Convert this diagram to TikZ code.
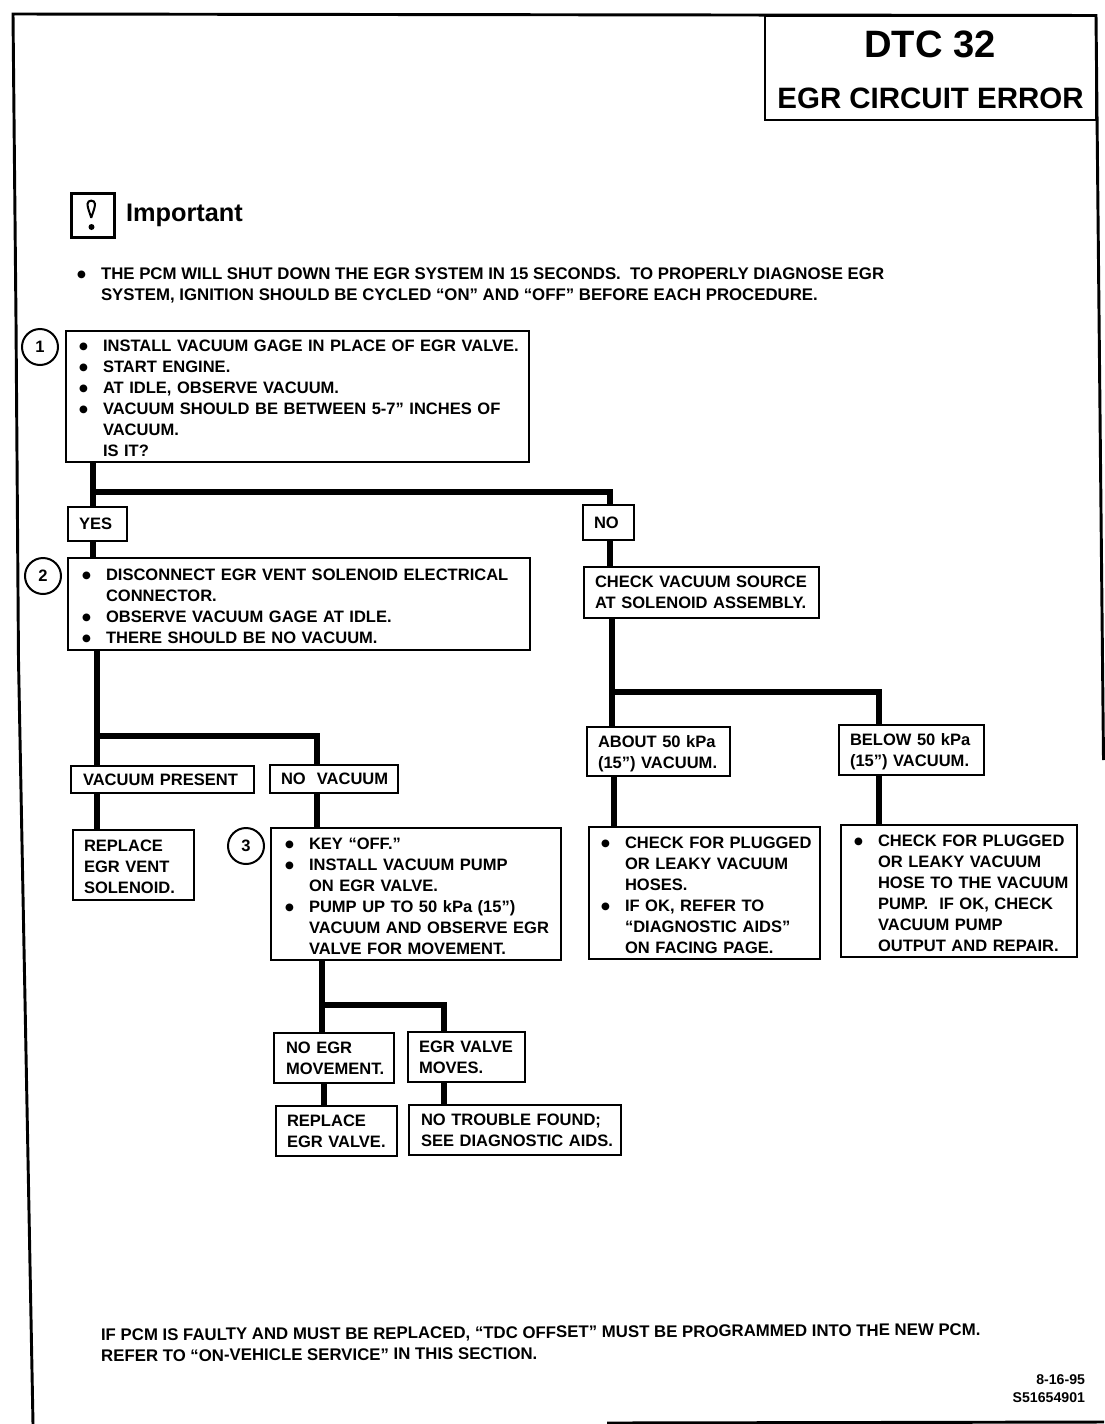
\documentclass[tikz,border=0pt]{standalone}
\usepackage{fontspec}
\setmainfont{Liberation Sans}
\newfontfamily\bulfont{DejaVu Sans}
\newcommand{\boxfont}{\fontsize{12.4}{15.75}\selectfont\bfseries}
\newcommand{\notefont}{\fontsize{12.6}{15.75}\selectfont\bfseries}
\newcommand{\bul}{\makebox[18pt][l]{\raisebox{1.4pt}{\bulfont\fontsize{7.6}{12}\selectfont ●}}}
\newcommand{\hang}{\hspace*{18pt}}
\tikzset{every picture/.style={line width=1.5pt},
  textbox/.style n args={3}{draw,anchor=north west,align=left,font=\boxfont,inner sep=0pt,
    execute at begin node={\leftskip=0.75\dimexpr #3pt\relax},
    minimum width=(#1-1)*0.75pt,minimum height=(#2-1)*0.75pt,text width=(#1-1)*0.75pt},
  lowtext/.style={execute at end node={\par\vspace*{-3pt}}},
  stepmark/.style={draw,circle,minimum size=36*0.75pt,inner sep=0pt,font=\boxfont},
  link/.style={line width=4.2pt},
  plaintext/.style={anchor=north west,inner sep=0pt,align=left,font=\notefont}}

\begin{document}
\begin{tikzpicture}[x=0.75pt,y=0.75pt,yscale=-1,xscale=1]
        \useasboundingbox (0,0) rectangle (1104,1424);

        %Page frame
        \draw [line width=2.2pt] (33,1424) -- (25,1000) -- (18.5,660) -- (16,320) -- (13,14) -- (1096,15.5) -- (1103.5,760);
        \draw [line width=2.2pt] (607,1423) -- (1104,1422);

        %Title block
        \node (titlebox) [draw,anchor=north west,minimum width=331*0.75pt,minimum height=104*0.75pt] at (764,15) {};
        \node (titletop) [font=\fontsize{28.6}{30}\selectfont\bfseries] at (930,44) {DTC 32};
        \node (titlebot) [font=\fontsize{22.1}{26}\selectfont\bfseries] at (930.5,98) {EGR CIRCUIT ERROR};

        %Important sign
        \node (alertbox) [draw,line width=2.4pt,anchor=north west,minimum width=43*0.75pt,minimum height=44*0.75pt] at (70,192) {};
        \draw (91,217) .. controls (89,211) and (87.5,207) .. (87.5,204) .. controls (87.5,199.5) and (95,199.5) .. (95,204) .. controls (95,207) and (93.5,211) .. (91.5,217) -- cycle;
        \fill (91.5,227) circle (3);
        \node (alerttext) [anchor=west,inner sep=0pt,font=\fontsize{19}{22}\selectfont\bfseries] at (125,215) {Important};
        \node (alertnote) [plaintext] at (76,267) {\bul THE PCM WILL SHUT DOWN THE EGR SYSTEM IN 15 SECONDS.\ \ TO PROPERLY DIAGNOSE EGR\\\hang SYSTEM, IGNITION SHOULD BE CYCLED “ON” AND “OFF” BEFORE EACH PROCEDURE.};

        % Text Node
        \node (stepone) [textbox={464}{132}{13},lowtext] at (65,330) {\bul INSTALL VACUUM GAGE IN PLACE OF EGR VALVE.\\\bul START ENGINE.\\\bul AT IDLE, OBSERVE VACUUM.\\\bul VACUUM SHOULD BE BETWEEN 5-7” INCHES OF\\\hang VACUUM.\\\hang IS IT?};
        \node (markone) [stepmark] at (40,347) {1};
        \node (yesbox) [textbox={60}{35}{11}] at (67,506) {YES};
        \node (nobox) [textbox={52}{36}{11}] at (582,504) {NO};
        \node (steptwo) [textbox={463}{93}{14},lowtext] at (67,557) {\bul DISCONNECT EGR VENT SOLENOID ELECTRICAL\\\hang CONNECTOR.\\\bul OBSERVE VACUUM GAGE AT IDLE.\\\bul THERE SHOULD BE NO VACUUM.};
        \node (marktwo) [stepmark] at (43,576) {2};
        \node (checkbox) [textbox={236}{52}{11}] at (583,566) {CHECK VACUUM SOURCE\\AT SOLENOID ASSEMBLY.};
        \node (aboutbox) [textbox={144}{50}{11},lowtext] at (586,726) {ABOUT 50 kPa\\(15”) VACUUM.};
        \node (belowbox) [textbox={146}{51}{11},lowtext] at (838,724) {BELOW 50 kPa\\(15”) VACUUM.};
        \node (plugbox) [textbox={232}{133}{12},lowtext] at (588,826) {\bul CHECK FOR PLUGGED\\\hang OR LEAKY VACUUM\\\hang HOSES.\\\bul IF OK, REFER TO\\\hang “DIAGNOSTIC AIDS”\\\hang ON FACING PAGE.};
        \node (hosebox) [textbox={237}{133}{13},lowtext] at (840,824) {\bul CHECK FOR PLUGGED\\\hang OR LEAKY VACUUM\\\hang HOSE TO THE VACUUM\\\hang PUMP.\ \ IF OK, CHECK\\\hang VACUUM PUMP\\\hang OUTPUT AND REPAIR.};
        \node (presentbox) [textbox={184}{28}{12}] at (70,765) {VACUUM PRESENT};
        \node (novacbox) [textbox={129}{29}{11}] at (269,764) {NO\ \ VACUUM};
        \node (ventbox) [textbox={122}{71}{11},lowtext] at (72,829) {REPLACE\\EGR VENT\\SOLENOID.};
        \node (stepthree) [textbox={291}{133}{14},lowtext] at (270,827) {\bul KEY “OFF.”\\\bul INSTALL VACUUM PUMP\\\hang ON EGR VALVE.\\\bul PUMP UP TO 50 kPa (15”)\\\hang VACUUM AND OBSERVE EGR\\\hang VALVE FOR MOVEMENT.};
        \node (markthree) [stepmark] at (246,846) {3};
        \node (noegrbox) [textbox={121}{51}{12}] at (273,1032) {NO EGR\\MOVEMENT.};
        \node (movesbox) [textbox={118}{51}{11}] at (407,1031) {EGR VALVE\\MOVES.};
        \node (valvebox) [textbox={122}{51}{11}] at (275,1105) {REPLACE\\EGR VALVE.};
        \node (foundbox) [textbox={213}{51}{12}] at (408,1104) {NO TROUBLE FOUND;\\SEE DIAGNOSTIC AIDS.};

        %Straight Lines
        \coordinate (splitone) at (93,492);
        \coordinate (splitno) at (610,492);
        \coordinate (splittwo) at (97,736);
        \coordinate (splitvac) at (317,736);
        \coordinate (splitchk) at (612,692);
        \coordinate (splitlow) at (879,692);
        \coordinate (splitthree) at (322,1005);
        \coordinate (splitmove) at (444,1005);
        \draw [link] (stepone.south -| splitone) -- (yesbox.north -| splitone);
        \draw [link] (splitone) -- (splitno) -- (nobox.north -| splitno);
        \draw [link] (yesbox.south -| splitone) -- (steptwo.north -| splitone);
        \draw [link] (nobox.south -| splitno) -- (checkbox.north -| splitno);
        \draw [link] (checkbox.south -| splitchk) -- (aboutbox.north -| splitchk);
        \draw [link] (splitchk) -- (splitlow) -- (belowbox.north -| splitlow);
        \draw [link] ([xshift=1.5pt]aboutbox.south -| splitchk) -- ([xshift=1.5pt]plugbox.north -| splitchk);
        \draw [link] (belowbox.south -| splitlow) -- (hosebox.north -| splitlow);
        \draw [link] (steptwo.south -| splittwo) -- (presentbox.north -| splittwo);
        \draw [link] (splittwo) -- (splitvac) -- (novacbox.north -| splitvac);
        \draw [link] (presentbox.south -| splittwo) -- (ventbox.north -| splittwo);
        \draw [link] (novacbox.south -| splitvac) -- (stepthree.north -| splitvac);
        \draw [link] (stepthree.south -| splitthree) -- (noegrbox.north -| splitthree);
        \draw [link] (splitthree) -- (splitmove) -- (movesbox.north -| splitmove);
        \draw [link] ([xshift=1.5pt]noegrbox.south -| splitthree) -- ([xshift=1.5pt]valvebox.north -| splitthree);
        \draw [link] (movesbox.south -| splitmove) -- (foundbox.north -| splitmove);

        % Text Node
        \node (servicenote) [plaintext,rotate=0.35] at (100,1328) {IF PCM IS FAULTY AND MUST BE REPLACED, “TDC OFFSET” MUST BE PROGRAMMED INTO THE NEW PCM.\\REFER TO “ON-VEHICLE SERVICE” IN THIS SECTION.};
        \node (figcode) [anchor=north east,inner sep=0pt,align=right,font=\fontsize{10.6}{13.5}\selectfont\bfseries] at (1086,1374) {8-16-95\\S51654901};

\end{tikzpicture}
\end{document}
